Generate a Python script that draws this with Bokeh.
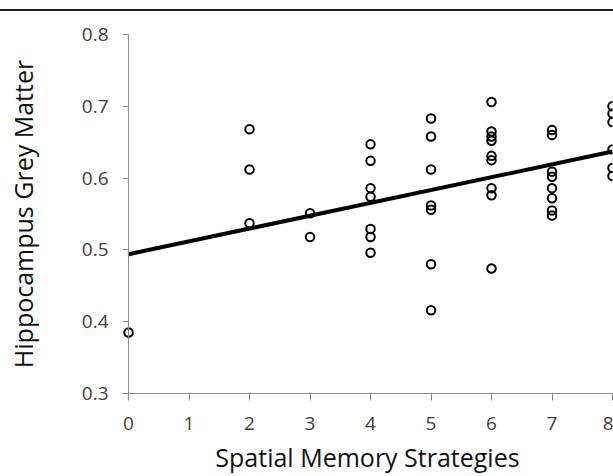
from bokeh.plotting import figure
from bokeh.models import Range1d, FixedTicker, Span
from bokeh.embed import file_html
from bokeh.resources import INLINE

# Data
strategies = [0,
              2, 2, 2,
              3, 3,
              4, 4, 4, 4, 4, 4, 4,
              5, 5, 5, 5, 5, 5, 5,
              6, 6, 6, 6, 6, 6, 6, 6, 6,
              7, 7, 7, 7, 7, 7, 7, 7,
              8, 8, 8, 8, 8, 8]
grey_matter = [0.385,
               0.668, 0.612, 0.537,
               0.551, 0.518,
               0.647, 0.624, 0.586, 0.574, 0.529, 0.518, 0.496,
               0.683, 0.658, 0.612, 0.562, 0.556, 0.480, 0.416,
               0.706, 0.665, 0.658, 0.652, 0.631, 0.625, 0.586, 0.576, 0.474,
               0.667, 0.660, 0.609, 0.602, 0.586, 0.572, 0.555, 0.548,
               0.700, 0.690, 0.678, 0.640, 0.614, 0.603]
trend_x = [0, 8]
trend_y = [0.494, 0.637]
x_ticks = [0, 1, 2, 3, 4, 5, 6, 7, 8]
y_ticks = [0.3, 0.4, 0.5, 0.6, 0.7, 0.8]
y_tick_labels = {0.3: "0.3", 0.4: "0.4", 0.5: "0.5", 0.6: "0.6", 0.7: "0.7", 0.8: "0.8"}
x_title = "Spatial Memory Strategies"
y_title = "Hippocampus Grey Matter"

p = figure(width=613, height=476, output_backend="svg", toolbar_location=None,
           x_range=Range1d(-0.1, 8), y_range=Range1d(0.3, 0.8),
           min_border_left=122, min_border_right=1, min_border_top=34,
           min_border_bottom=83)
p.styles = {"background": "linear-gradient(to bottom, #ffffff 0px, #ffffff 9px, "
                          "#1e1e1e 9px, #1e1e1e 11.5px, #ffffff 11.5px, #ffffff 100%)"}
p.outline_line_color = None
p.background_fill_color = "white"
p.border_fill_alpha = 0
p.xgrid.visible = False
p.ygrid.visible = False

# y axis rule at x = 0
p.add_layout(Span(location=0, dimension="height", line_color="#888888", line_width=1))

p.line(trend_x, trend_y, line_color="black", line_width=4)
p.scatter(strategies, grey_matter, marker="circle", size=8.5, fill_color=None,
          line_color="black", line_width=2)

for ax in (p.xaxis[0], p.yaxis[0]):
    ax.axis_line_color = "#888888"
    ax.major_tick_line_color = "#888888"
    ax.minor_tick_line_color = None
    ax.major_label_text_font = "Open Sans"
    ax.major_label_text_font_size = "19px"
    ax.major_label_text_color = "#404040"
    ax.axis_label_text_font = "Open Sans"
    ax.axis_label_text_font_size = "25px"
    ax.axis_label_text_font_style = "normal"
    ax.axis_label_text_color = "#111111"

p.xaxis.ticker = FixedTicker(ticks=x_ticks)
p.yaxis.ticker = FixedTicker(ticks=y_ticks)
p.yaxis.major_label_overrides = y_tick_labels
p.yaxis.axis_line_color = None
p.xaxis.major_tick_in = 0
p.xaxis.major_tick_out = 7
p.yaxis.major_tick_in = 6
p.yaxis.major_tick_out = 0
p.xaxis.major_label_standoff = 16
p.yaxis.major_label_standoff = 14
p.xaxis.axis_label = x_title
p.yaxis.axis_label = y_title
p.xaxis.axis_label_standoff = 7
p.yaxis.axis_label_standoff = 39

open("out.html", "w").write(file_html(p, INLINE))
